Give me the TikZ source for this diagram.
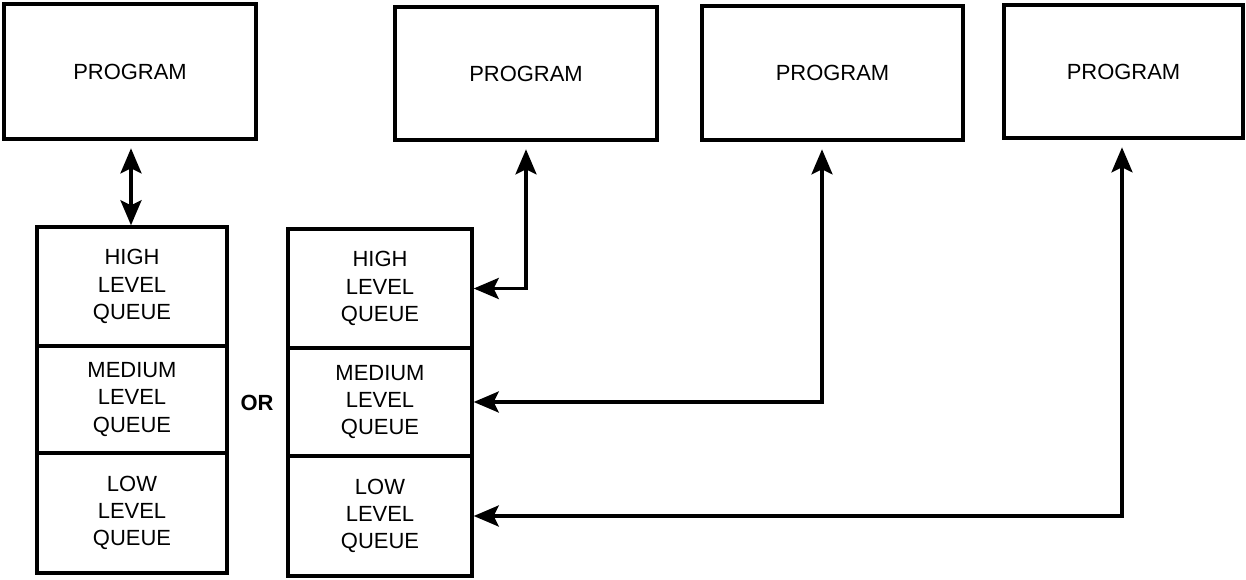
\documentclass[tikz,border=0pt]{standalone}
\usepackage{fontspec}
\setmainfont{Liberation Sans}
\usetikzlibrary{arrows.meta}

\begin{document}
\begin{tikzpicture}[x=0.02cm,y=-0.02cm,
  prog/.style={draw,line width=2.1pt,inner sep=0pt,font=\fontsize{12.5}{15.5}\selectfont},
  cell/.style={draw,line width=2pt,inner sep=0pt,align=center,font=\fontsize{12.5}{15.5}\selectfont},
  link/.style={line width=1.9pt,{Stealth[length=5mm,width=4.2mm,inset=1mm]}-{Stealth[length=5mm,width=4.2mm,inset=1mm]}}]
 \useasboundingbox (0,0) rectangle (1246,580);
 % programs
 \node[prog,minimum width=5.04cm,minimum height=2.7cm] (p1) at (130,71.5) {PROGRAM};
 \node[prog,minimum width=5.24cm,minimum height=2.66cm] (p2) at (526,73.5) {PROGRAM};
 \node[prog,minimum width=5.22cm,minimum height=2.68cm] (p3) at (832.5,73) {PROGRAM};
 \node[prog,minimum width=4.78cm,minimum height=2.66cm] (p4) at (1123.5,71.5) {PROGRAM};
 % first stack of queues
 \node[cell,minimum width=3.8cm,minimum height=2.38cm] (q1h) at (132,286.5) {HIGH\\LEVEL\\QUEUE};
 \node[cell,minimum width=3.8cm,minimum height=2.14cm] (q1m) at (132,399.5) {MEDIUM\\LEVEL\\QUEUE};
 \node[cell,minimum width=3.8cm,minimum height=2.4cm] (q1l) at (132,513) {LOW\\LEVEL\\QUEUE};
 \node[font=\fontsize{12.5}{15.5}\selectfont\bfseries] (or) at (257,403) {OR};
 % second stack of queues
 \node[cell,minimum width=3.68cm,minimum height=2.38cm] (q2h) at (380,288.5) {HIGH\\LEVEL\\QUEUE};
 \node[cell,minimum width=3.68cm,minimum height=2.16cm] (q2m) at (380,402) {MEDIUM\\LEVEL\\QUEUE};
 \node[cell,minimum width=3.68cm,minimum height=2.4cm] (q2l) at (380,516) {LOW\\LEVEL\\QUEUE};
 % connections
 \draw[link,shorten <=0.15cm] ([xshift=0.02cm]p1.south) -- ([xshift=0.02cm]p1.south |- q1h.north);
 \draw[link,shorten >=0.15cm] (q2h.east) -| (p2.south);
 \draw[link,shorten >=0.15cm] (q2m.east) -| ([xshift=-0.21cm]p3.south);
 \draw[link,shorten >=0.15cm] (q2l.east) -| ([xshift=-0.03cm]p4.south);
\end{tikzpicture}
\end{document}
